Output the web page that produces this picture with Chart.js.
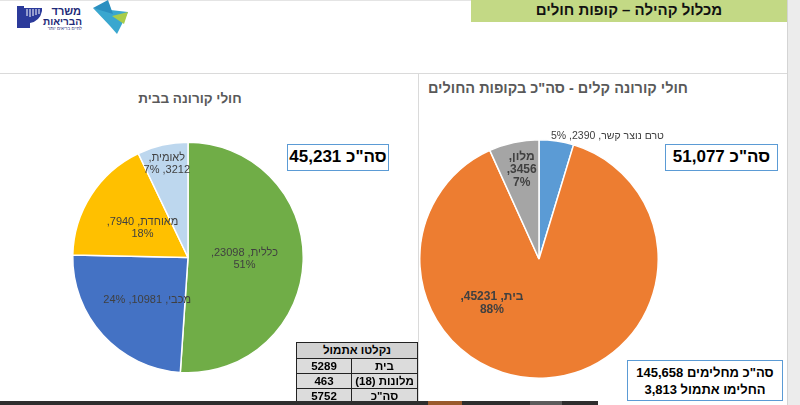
<!DOCTYPE html>
<html><head><meta charset="utf-8">
<script src="https://cdn.jsdelivr.net/npm/chart.js@4.4.0/dist/chart.umd.min.js"></script>
<style>
html,body{margin:0;padding:0}
body{width:800px;height:405px;overflow:hidden;background:#fff;font-family:"Liberation Sans",Arial,sans-serif;position:relative}
.abs{position:absolute}
.title{color:#595959;font-weight:bold;white-space:nowrap;direction:rtl}
.box{border:1.5px solid #5b9bd5;box-sizing:border-box;background:#fff;font-weight:bold;color:#000;text-align:center;direction:rtl;white-space:nowrap}
table{border-collapse:collapse;direction:rtl;table-layout:fixed}
td{border:1.5px solid #222;background:#dcdcdc;font-weight:bold;font-size:11.5px;text-align:center;padding:0;height:14px;line-height:13px;color:#000;white-space:nowrap;overflow:hidden}
</style></head><body>

<!-- frame -->
<div class="abs" style="left:0;top:0;width:787px;height:1px;background:#e4e4e4"></div>
<div class="abs" style="left:0;top:73px;width:787px;height:1px;background:#dadada"></div>
<div class="abs" style="left:418px;top:73px;width:1px;height:330px;background:#dadada"></div>
<div class="abs" style="left:787px;top:0;width:13px;height:405px;background:#ececec;border-left:1px solid #d4d4d4"></div>
<div class="abs" style="left:471px;top:0;width:316px;height:22px;background:#c3d985"></div>
<div class="abs" style="left:471px;top:0;width:316px;height:20px;line-height:20px;text-align:center;font-weight:bold;font-size:15px;color:#111;direction:rtl" id="header"></div>

<!-- logo -->
<svg class="abs" style="left:0;top:0" width="140" height="40">
  <rect x="17" y="6" width="7" height="22" fill="#2b3a9a"/>
  <path d="M24 8 h18 v3 q-2 10 -12 12 v5 h-6z" fill="#2b3a9a"/>
  <path d="M27 9 v7 M30 9 v8 M33 9 v7 M36 9 v6 M39 9 v5" stroke="#fff" stroke-width="1"/>
  <polygon points="93,8 128,12 117,34 110,26" fill="#3aa7cf"/>
  <polygon points="108,0 113,14 93,8" fill="#2a8fc0"/>
  <polygon points="112,16 128,12 124,24" fill="#a8cc4a"/>
  <text x="81" y="15" text-anchor="end" font-size="11" font-weight="bold" fill="#1e2a78" font-family="Liberation Sans,Arial">משרד</text>
  <text x="82" y="24.5" text-anchor="end" font-size="10" font-weight="bold" fill="#1e2a78" font-family="Liberation Sans,Arial">הבריאות</text>
  <text x="82" y="30" text-anchor="end" font-size="4.5" fill="#1e2a78" font-family="Liberation Sans,Arial">לחיים בריאים יותר</text>
</svg>

<!-- titles -->
<div class="abs title" id="t1" style="left:0;width:380px;top:91px;text-align:center;font-size:13.5px"></div>
<div class="abs title" id="t2" style="left:430px;width:258px;top:80px;text-align:center;font-size:14.5px"></div>

<!-- charts -->
<div class="abs" style="left:0;top:74px;width:418px;height:331px"><canvas id="c1"></canvas></div>
<div class="abs" style="left:419px;top:74px;width:368px;height:331px"><canvas id="c2"></canvas></div>

<!-- boxes -->
<div class="abs box" id="b1" style="left:287px;top:144px;width:102px;height:27px;line-height:24px;font-size:17px"></div>
<div class="abs box" id="b2" style="left:665px;top:144px;width:113px;height:27px;line-height:24px;font-size:17px"></div>
<div class="abs box" id="b3" style="left:627px;top:360px;width:156px;height:41px;font-size:13px;line-height:17px;padding-top:3px"></div>

<!-- table -->
<table class="abs" id="tbl" style="left:296px;top:342px;width:121px"></table>

<!-- bottom bar -->
<div class="abs" style="left:0;top:401px;width:598px;height:4px;background:#2e2e2e"></div>
<div class="abs" style="left:428px;top:401px;width:34px;height:4px;background:#9a5a2c"></div>
<div class="abs" style="left:530px;top:401px;width:32px;height:4px;background:#5c5c5c"></div>

<script>
// ---------- data ----------
const headerText = 'מכלול קהילה – קופות חולים';
const homeTitle = 'חולי קורונה בבית';
const lightTitle = 'חולי קורונה קלים - סה"כ בקופות החולים';

const homeLabels = ['כללית', 'מכבי', 'מאוחדת', 'לאומית'];
const homeValues = [23098, 10981, 7940, 3212];
const homePercents = ['51%', '24%', '18%', '7%'];
const homeTotal = '45,231';

const lightLabels = ['טרם נוצר קשר', 'בית', 'מלון'];
const lightValues = [2390, 45231, 3456];
const lightPercents = ['5%', '88%', '7%'];
const lightTotal = '51,077';

const recoveredTotal = '145,658';
const recoveredYesterday = '3,813';

const tableHeader = 'נקלטו אתמול';
const tableNames = ['בית', 'מלונות (18)', 'סה"כ'];
const tableValues = ['5289', '463', '5752'];

// ---------- styles ----------
const homeColors = ['#70ad47', '#4472c4', '#ffc000', '#bdd7ee'];
const lightColors = ['#5b9bd5', '#ed7d31', '#a5a5a5'];
// label line grouping (how many parts on each line) and placement (radius ratio, optional angle in degrees, offsets)
const homeLines = [[2, 1], [3], [2, 1], [1, 2]];
const homePlace = [{r: 0.49}, {r: 0.51, angle: 224}, {r: 0.47}, {r: 0.83}];
const lightLines = [[3], [2, 1], [1, 1, 1]];
const lightPlace = [{r: 1.0, dx: 51, dy: -5, font: 'normal 10.5px'}, {r: 0.54, angle: 227}, {r: 0.76, angle: 349}];

document.getElementById('header').textContent = headerText;
document.getElementById('t1').textContent = homeTitle;
document.getElementById('t2').textContent = lightTitle;
document.getElementById('b1').textContent = 'סה"כ ' + homeTotal;
document.getElementById('b2').textContent = 'סה"כ ' + lightTotal;
document.getElementById('b3').innerHTML = 'סה"כ מחלימים ' + recoveredTotal + '<br>' + 'החלימו אתמול ' + recoveredYesterday;

const tbl = document.getElementById('tbl');
let html = '<colgroup><col style="width:66px"><col style="width:55px"></colgroup>';
html += '<tr><td colspan="2" style="background:#d2d2d2;height:15px">' + tableHeader + '</td></tr>';
tableNames.forEach((n, i) => {
  html += '<tr><td>' + n + '</td><td>' + tableValues[i] + '</td></tr>';
});
tbl.innerHTML = html;

function buildLines(name, value, pct, groups) {
  const parts = [name + ',', value + ',', pct];
  const lines = []; let k = 0;
  groups.forEach(g => { lines.push(parts.slice(k, k + g).join(' ')); k += g; });
  return lines;
}

const sliceLabels = {
  id: 'sliceLabels',
  afterDatasetsDraw(chart, args, opts) {
    const ctx = chart.ctx;
    const meta = chart.getDatasetMeta(0);
    const ds = chart.data.datasets[0];
    meta.data.forEach((arc, i) => {
      const p = opts.place[i];
      const mid = p.angle !== undefined ? p.angle * Math.PI / 180 - Math.PI / 2 : (arc.startAngle + arc.endAngle) / 2;
      const rr = arc.outerRadius * p.r;
      const x = arc.x + Math.cos(mid) * rr + (p.dx || 0);
      const y = arc.y + Math.sin(mid) * rr + (p.dy || 0);
      const lines = buildLines(chart.data.labels[i], String(ds.data[i]), opts.percents[i], opts.lines[i]);
      ctx.save();
      ctx.font = (p.font || opts.font) + ' "Liberation Sans", Arial, sans-serif';
      ctx.fillStyle = '#404040';
      ctx.textAlign = 'center';
      ctx.textBaseline = 'middle';
      ctx.direction = 'rtl';
      const lh = opts.lineHeight;
      const y0 = y - (lines.length - 1) * lh / 2;
      lines.forEach((t, j) => ctx.fillText(t, x, y0 + j * lh));
      ctx.restore();
    });
  }
};

function makePie(id, labels, values, colors, padding, pluginOpts) {
  return new Chart(document.getElementById(id), {
    type: 'pie',
    data: {labels: labels, datasets: [{data: values, backgroundColor: colors, borderColor: '#ffffff', borderWidth: 1.5}]},
    options: {
      responsive: true, maintainAspectRatio: false, animation: false,
      layout: {padding: padding},
      plugins: {legend: {display: false}, tooltip: {enabled: false}, sliceLabels: pluginOpts}
    },
    plugins: [sliceLabels]
  });
}

makePie('c1', homeLabels, homeValues, homeColors, {left: 72, right: 114, top: 67, bottom: 31},
  {place: homePlace, lines: homeLines, percents: homePercents, font: 'normal 11px', lineHeight: 12});
makePie('c2', lightLabels, lightValues, lightColors, {left: 0, right: 128, top: 65, bottom: 26},
  {place: lightPlace, lines: lightLines, percents: lightPercents, font: 'bold 12px', lineHeight: 13});
</script>
</body></html>
